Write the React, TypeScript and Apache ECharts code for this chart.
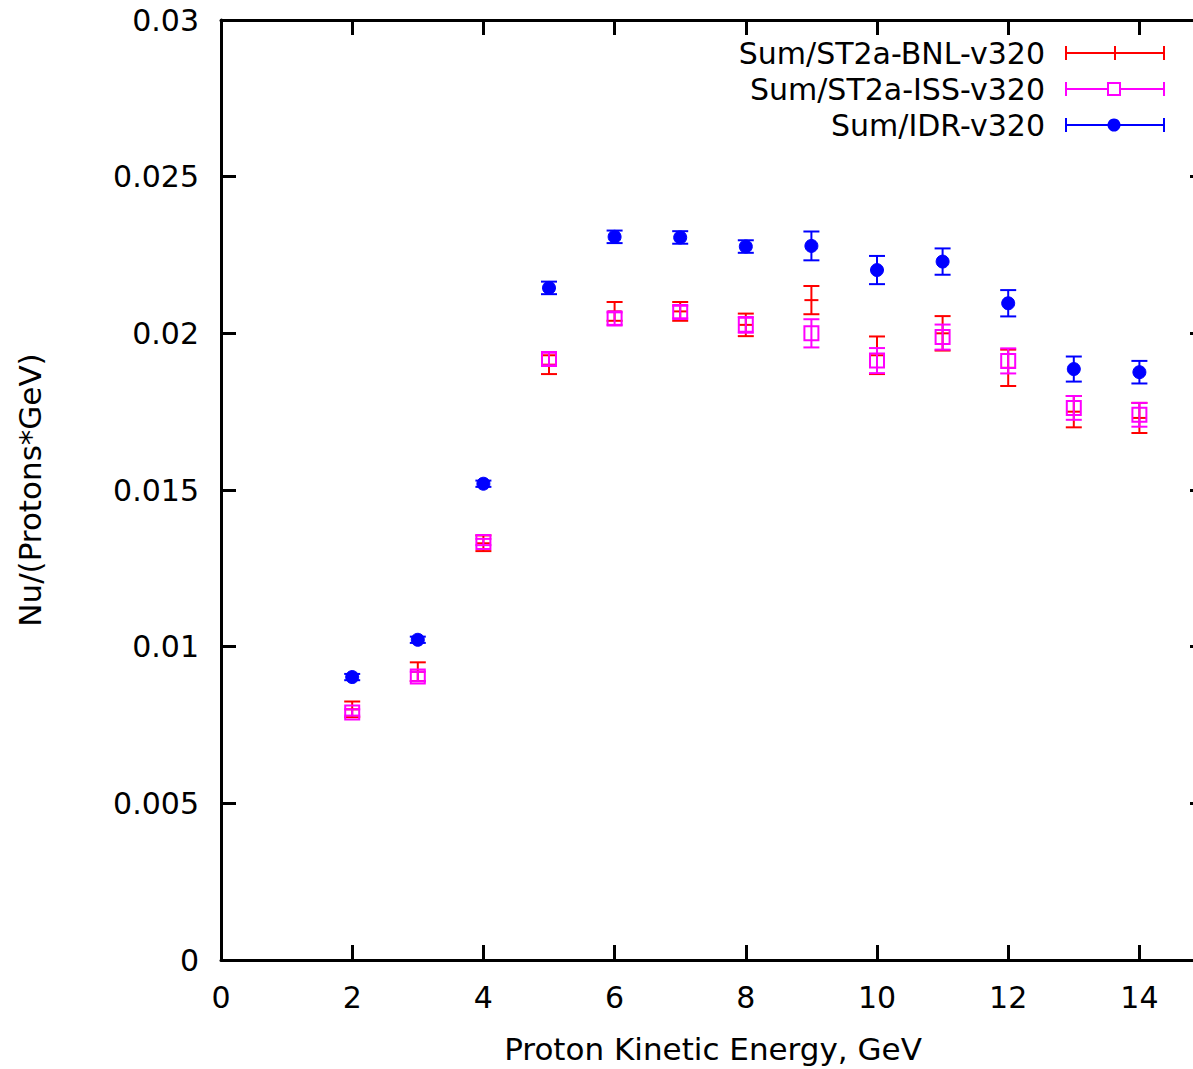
import React, { useEffect, useRef } from "react";
import * as echarts from "echarts";

const energies = [2, 3, 4, 5, 6, 7, 8, 9, 10, 11, 12, 13, 14];
const bnlValues = [0.008, 0.0092, 0.0133, 0.019, 0.0207, 0.0207, 0.02027, 0.02106, 0.0193, 0.02, 0.0189, 0.0175, 0.0173];
const bnlErrors = [0.00025, 0.0003, 0.00025, 0.0003, 0.0003, 0.0003, 0.00036, 0.00045, 0.0006, 0.00055, 0.00058, 0.0005, 0.00048];
const issValues = [0.0079, 0.00905, 0.01334, 0.01918, 0.02047, 0.02068, 0.02027, 0.02, 0.01913, 0.01988, 0.01912, 0.01762, 0.0174];
const issErrors = [0.0001, 0.00015, 0.0001, 0.0002, 0.0002, 0.0002, 0.00025, 0.00045, 0.0004, 0.0004, 0.0004, 0.00038, 0.00038];
const idrValues = [0.00903, 0.01022, 0.0152, 0.02145, 0.02308, 0.02306, 0.02277, 0.02279, 0.02202, 0.02229, 0.02096, 0.01886, 0.01876];
const idrErrors = [0.0001, 0.0001, 0.0001, 0.0002, 0.0002, 0.0002, 0.0002, 0.00046, 0.00045, 0.00042, 0.00042, 0.0004, 0.00036];

const seriesNames = ["Sum/ST2a-BNL-v320", "Sum/ST2a-ISS-v320", "Sum/IDR-v320"];
const seriesColors = ["#ff0000", "#ff00ff", "#0000ff"];
const xTitle = "Proton Kinetic Energy, GeV";
const yTitle = "Nu/(Protons*GeV)";

const FONT = "DejaVu Sans";
const FS = 30;
const CAP = 8;

function markerShapes(kind: number, cx: number, cy: number, color: string) {
  if (kind === 0) {
    return [{ type: "line", shape: { x1: cx - 7, y1: cy, x2: cx + 7, y2: cy }, style: { stroke: color, lineWidth: 2 } }];
  }
  if (kind === 1) {
    return [{ type: "rect", shape: { x: cx - 7, y: cy - 7, width: 14, height: 14 }, style: { stroke: color, fill: "none", lineWidth: 2 } }];
  }
  return [{ type: "circle", shape: { cx, cy, r: 6.5 }, style: { fill: color, stroke: color, lineWidth: 1 } }];
}

function makeSeries(idx: number, values: number[], errors: number[]) {
  const color = seriesColors[idx];
  return {
    type: "custom",
    name: seriesNames[idx],
    xAxisIndex: 0,
    yAxisIndex: 0,
    z: 10 + idx,
    data: energies.map((e, i) => [e, values[i], errors[i]]),
    renderItem: (params: any, api: any) => {
      const x = api.value(0);
      const y = api.value(1);
      const err = api.value(2);
      const c = api.coord([x, y]);
      const t = api.coord([x, y + err]);
      const b = api.coord([x, y - err]);
      const st = { stroke: color, lineWidth: 2 };
      return {
        type: "group",
        children: [
          { type: "line", shape: { x1: c[0], y1: t[1], x2: c[0], y2: b[1] }, style: st },
          { type: "line", shape: { x1: c[0] - CAP, y1: t[1], x2: c[0] + CAP, y2: t[1] }, style: st },
          { type: "line", shape: { x1: c[0] - CAP, y1: b[1], x2: c[0] + CAP, y2: b[1] }, style: st },
          ...markerShapes(idx, c[0], c[1], color),
        ],
      };
    },
  };
}

function legendGraphics() {
  const out: any[] = [];
  const rows = [53, 89, 125];
  rows.forEach((y, i) => {
    const color = seriesColors[i];
    const st = { stroke: color, lineWidth: 2 };
    out.push({
      type: "text",
      x: 1045,
      y,
      style: { text: seriesNames[i], font: `${FS}px '${FONT}'`, fill: "#000", align: "right", verticalAlign: "middle" },
    });
    out.push({ type: "line", shape: { x1: 1066, y1: y, x2: 1164, y2: y }, style: st });
    out.push({ type: "line", shape: { x1: 1066, y1: y - 7, x2: 1066, y2: y + 7 }, style: st });
    out.push({ type: "line", shape: { x1: 1164, y1: y - 7, x2: 1164, y2: y + 7 }, style: st });
    if (i === 0) {
      out.push({ type: "line", shape: { x1: 1115, y1: y - 7, x2: 1115, y2: y + 7 }, style: st });
    } else if (i === 1) {
      out.push({ type: "rect", shape: { x: 1108, y: y - 6, width: 12, height: 12 }, style: { stroke: color, fill: "#fff", lineWidth: 2 } });
    } else {
      out.push({ type: "circle", shape: { cx: 1114, cy: y, r: 6.5 }, style: { fill: color } });
    }
  });
  return out;
}

function fmt(v: number) {
  return parseFloat(v.toFixed(4)).toString();
}

function axisLine() {
  return { show: true, onZero: false, lineStyle: { color: "#000", width: 3 } };
}
function axisTick() {
  return { show: true, inside: true, length: 15, lineStyle: { color: "#000", width: 3 } };
}
function labelStyle(size: number) {
  return { color: "#000", fontFamily: FONT, fontSize: size };
}

export default function App() {
  const ref = useRef<HTMLDivElement>(null);
  useEffect(() => {
    if (!ref.current) return;
    const chart = echarts.init(ref.current, undefined, { renderer: "svg" });
    chart.setOption({
      animation: false,
      backgroundColor: "#fff",
      grid: { left: 221, right: -12, top: 20, bottom: 109, containLabel: false, outerBoundsMode: "none" },
      xAxis: [
        {
          type: "value",
          min: 0,
          max: 15,
          interval: 2,
          position: "bottom",
          axisLine: axisLine(),
          axisTick: axisTick(),
          splitLine: { show: false },
          axisLabel: { ...labelStyle(FS), margin: 22, showMaxLabel: false, formatter: (v: number) => (v % 2 === 0 ? fmt(v) : "") },
          name: xTitle,
          nameLocation: "middle",
          nameGap: 73,
          nameTextStyle: labelStyle(31),
        },
        {
          type: "value",
          min: 0,
          max: 15,
          interval: 2,
          position: "top",
          axisLine: axisLine(),
          axisTick: axisTick(),
          splitLine: { show: false },
          axisLabel: { show: false },
        },
      ],
      yAxis: [
        {
          type: "value",
          min: 0,
          max: 0.03,
          interval: 0.005,
          position: "left",
          axisLine: axisLine(),
          axisTick: axisTick(),
          splitLine: { show: false },
          axisLabel: { ...labelStyle(FS), margin: 22, formatter: (v: number) => fmt(v) },
          name: yTitle,
          nameLocation: "middle",
          nameGap: 176,
          nameRotate: 90,
          nameTextStyle: labelStyle(31),
        },
        {
          type: "value",
          min: 0,
          max: 0.03,
          interval: 0.005,
          position: "right",
          axisLine: axisLine(),
          axisTick: axisTick(),
          splitLine: { show: false },
          axisLabel: { show: false },
        },
      ],
      series: [
        makeSeries(0, bnlValues, bnlErrors),
        makeSeries(1, issValues, issErrors),
        makeSeries(2, idrValues, idrErrors),
      ],
      graphic: legendGraphics(),
    });
    return () => chart.dispose();
  }, []);
  return (
    <div style={{ position: "fixed", left: 0, top: 0, width: 1193, height: 1069, overflow: "hidden", background: "#fff" }}>
      <div ref={ref} style={{ width: 1193, height: 1069 }} />
    </div>
  );
}
